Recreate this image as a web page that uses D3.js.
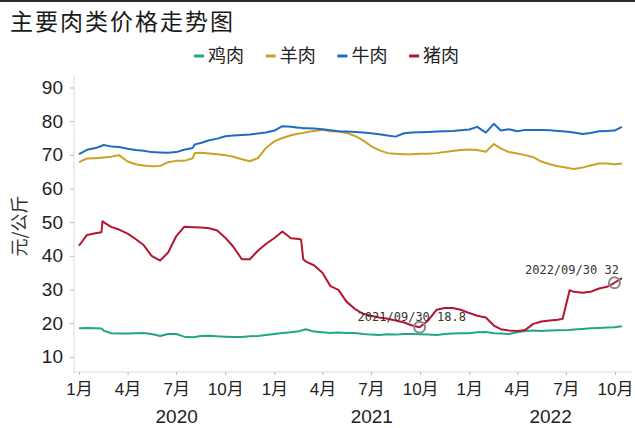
<!DOCTYPE html>
<html><head><meta charset="utf-8">
<script src="https://cdn.jsdelivr.net/npm/d3@7"></script>
<style>body{margin:0;background:#fff}svg{display:block}</style>
</head><body>
<svg id="c" width="635" height="428"></svg>
<script>
const title = "主要肉类价格走势图";
const seriesNames = ["鸡肉","羊肉","牛肉","猪肉"];
const seriesColors = ["#22a68a","#c9a226","#1f6cbf","#b3162e"];
const yTicks = [10,20,30,40,50,60,70,80,90];
const monthLabels = ["1月","4月","7月","10月"];
const yearLabels = ["2020","2021","2022"];
const dates = ["2020-01-01","2020-01-16","2020-02-01","2020-02-12","2020-02-14","2020-02-16","2020-03-01","2020-03-16","2020-04-01","2020-04-16","2020-05-01","2020-05-16","2020-06-01","2020-06-16","2020-07-01","2020-07-16","2020-08-01","2020-08-05","2020-08-16","2020-09-01","2020-09-16","2020-10-01","2020-10-16","2020-11-01","2020-11-16","2020-12-01","2020-12-16",
"2021-01-01","2021-01-16","2021-02-01","2021-02-16","2021-02-20","2021-02-24","2021-03-01","2021-03-16","2021-04-01","2021-04-16","2021-05-01","2021-05-16","2021-06-01","2021-06-16","2021-07-01","2021-07-16","2021-08-01","2021-08-16","2021-09-01","2021-09-16","2021-09-30","2021-10-16","2021-11-01","2021-11-16","2021-12-01","2021-12-16",
"2022-01-01","2022-01-16","2022-02-01","2022-02-16","2022-03-01","2022-03-16","2022-04-01","2022-04-16","2022-05-01","2022-05-16","2022-06-01","2022-06-16","2022-06-25","2022-07-08","2022-07-16","2022-08-01","2022-08-16","2022-09-01","2022-09-16","2022-09-30","2022-10-14"];
const chicken = [18.5,18.6,18.5,18.4,18.2,17.8,17.0,16.9,16.9,17.0,17.1,16.8,16.2,16.8,16.8,16.0,15.8,15.9,16.2,16.3,16.1,16.0,15.9,15.9,16.1,16.2,16.5,
16.8,17.1,17.3,17.6,17.8,18.0,18.2,17.5,17.3,17.1,17.2,17.1,17.1,16.8,16.6,16.5,16.7,16.6,16.8,16.8,16.7,16.6,16.5,16.8,16.9,17.0,
17.0,17.3,17.4,17.0,16.9,16.8,17.3,17.7,17.8,17.7,17.8,17.9,17.9,18.0,18.1,18.3,18.5,18.6,18.7,18.8,19.1];
const mutton = [67.8,68.9,69.0,69.1,69.2,69.2,69.4,69.9,68.0,67.2,66.8,66.6,66.7,67.8,68.2,68.2,69.0,70.5,70.6,70.4,70.2,69.9,69.4,68.7,68.1,69.0,72.0,
74.0,75.0,75.8,76.3,76.4,76.5,76.7,77.1,77.4,77.0,76.9,76.5,75.6,74.3,72.6,71.4,70.5,70.3,70.2,70.2,70.3,70.3,70.5,70.8,71.1,71.4,
71.6,71.4,70.9,73.2,71.9,70.8,70.4,69.9,69.3,68.0,67.2,66.6,66.4,66.0,65.8,66.2,66.8,67.4,67.4,67.2,67.4];
const beef = [70.2,71.5,72.0,72.6,72.8,72.9,72.5,72.3,71.8,71.4,71.2,70.8,70.7,70.6,70.8,71.5,72.0,73.1,73.5,74.3,74.8,75.5,75.7,75.9,76.0,76.3,76.6,
77.2,78.5,78.3,78.0,78.0,77.9,77.9,77.8,77.6,77.3,77.0,76.9,76.8,76.6,76.4,76.1,75.7,75.4,76.4,76.6,76.7,76.8,76.9,77.0,77.1,77.3,
77.5,78.3,76.6,79.2,77.2,77.6,77.0,77.4,77.4,77.4,77.3,77.1,77.0,76.8,76.6,76.2,76.5,77.0,77.1,77.2,78.3];
const pork = [43.0,46.2,46.7,47.0,50.3,50.0,48.6,47.8,46.6,45.0,43.2,40.0,38.6,41.0,45.8,48.6,48.5,48.5,48.4,48.2,47.5,45.4,42.7,39.0,39.0,41.5,43.5,
45.3,47.2,45.2,45.0,44.8,39.0,38.3,37.2,35.0,31.0,29.9,26.4,24.2,22.8,22.2,21.7,21.3,20.8,20.2,19.3,18.8,20.8,24.0,24.5,24.5,24.0,
23.0,22.2,21.7,19.3,18.2,17.8,17.7,18.0,19.8,20.5,20.8,21.0,21.3,29.8,29.3,29.0,29.3,30.3,30.8,32.0,33.4];
const annotDates = ["2021-09-30","2022-09-30"];
const annotValues = [18.8, 32];
const annotTexts = ["2021/09/30 18.8","2022/09/30 32"];

const parse = d3.timeParse("%Y-%m-%d");
const svg = d3.select("#c");
const cjk = "'Noto Sans CJK SC','Noto Sans',sans-serif";
const num = "'Liberation Sans',Arial,'Noto Sans CJK SC',sans-serif";

svg.append("rect").attr("x",0).attr("y",0).attr("width",635).attr("height",2).attr("fill","#2a2a2a");

const x = d3.scaleTime().domain([parse("2020-01-01"), parse("2022-10-01")]).range([79, 615]);
const y = d3.scaleLinear().domain([5.5, 93.7]).range([372, 75]);
const left = 74, right = 632;

// title
svg.append("text").attr("x",10).attr("y",30).text(title)
  .attr("font-family",cjk).attr("font-size",23).attr("letter-spacing",2).attr("fill","#1a1a1a");

// legend
seriesNames.forEach((n,i)=>{
  const lx = 194 + i*71.7;
  svg.append("line").attr("x1",lx).attr("x2",lx+10).attr("y1",56).attr("y2",56)
    .attr("stroke",seriesColors[i]).attr("stroke-width",3);
  svg.append("text").attr("x",lx+14).attr("y",62).text(n)
    .attr("font-family",cjk).attr("font-size",18).attr("fill","#222");
});

// y axis
svg.append("line").attr("x1",left).attr("x2",left).attr("y1",75).attr("y2",372).attr("stroke","#dcdcdc");
const yAxis = svg.append("g").attr("transform",`translate(${left},0)`)
  .call(d3.axisLeft(y).tickValues(yTicks).tickSize(4).tickPadding(7));
yAxis.select(".domain").remove();
yAxis.selectAll(".tick line").attr("stroke","#bbb");
yAxis.selectAll(".tick text").attr("font-family",num).attr("font-size",19).attr("fill","#222");

svg.append("text").attr("transform","translate(26,226) rotate(-90)").attr("text-anchor","middle")
  .text("元/公斤").attr("font-family",cjk).attr("font-size",18).attr("fill","#333");

// x axis
svg.append("line").attr("x1",left).attr("x2",right).attr("y1",372).attr("y2",372).attr("stroke","#dcdcdc");
const tickDates = d3.timeMonth.every(3).range(parse("2020-01-01"), parse("2022-10-02"));
const xAxis = svg.append("g").attr("transform","translate(0,372)")
  .call(d3.axisBottom(x).tickValues(tickDates).tickSize(3).tickPadding(8)
    .tickFormat(d => monthLabels[Math.floor(d.getMonth()/3)]));
xAxis.select(".domain").remove();
xAxis.selectAll(".tick line").attr("stroke","#bbb");
xAxis.selectAll(".tick text").attr("font-family",num).attr("font-size",17).attr("fill","#222");

yearLabels.forEach((yl,i)=>{
  const x0 = x(parse(yl+"-01-01"));
  const x1 = i < yearLabels.length-1 ? x(parse(yearLabels[i+1]+"-01-01")) : right;
  svg.append("text").attr("x",(x0+x1)/2).attr("y",423).attr("text-anchor","middle").text(yl)
    .attr("font-family",num).attr("font-size",19).attr("fill","#222");
});

// lines
const allSeries = [chicken, mutton, beef, pork];
const line = d3.line().x(d=>x(d[0])).y(d=>y(d[1]));
allSeries.forEach((vals,i)=>{
  const data = dates.map((d,k)=>[parse(d), vals[k]]);
  svg.append("path").datum(data).attr("d",line).attr("fill","none")
    .attr("stroke",seriesColors[i]).attr("stroke-width",2).attr("stroke-linejoin","round");
});

// annotations
const offs = [[-62,-6],[-89.5,-9]];
annotDates.forEach((d,i)=>{
  const px = x(parse(d)), py = y(annotValues[i]);
  svg.append("circle").attr("cx",px).attr("cy",py).attr("r",5.5).attr("fill","none")
    .attr("stroke","#8a8a8a").attr("stroke-width",2);
  svg.append("text").attr("x",px+offs[i][0]).attr("y",py+offs[i][1]).text(annotTexts[i])
    .attr("font-family","'DejaVu Sans Mono',monospace").attr("font-size",12).attr("fill","#333");
});
</script>
</body></html>
